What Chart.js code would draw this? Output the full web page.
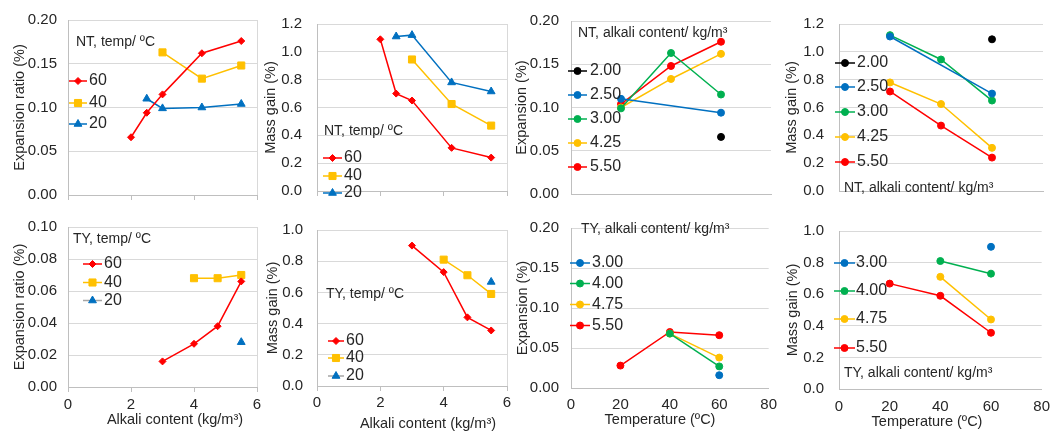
<!DOCTYPE html>
<html>
<head>
<meta charset="utf-8">
<script src="https://cdn.jsdelivr.net/npm/chart.js@4.4.0/dist/chart.umd.min.js"></script>
<style>
  html, body { margin: 0; padding: 0; background: #fff; }
  #wrap { position: relative; width: 1059px; height: 434px; overflow: hidden; }
  #wrap canvas { position: absolute; }
</style>
</head>
<body>
<div id="wrap"></div>
<script>
// ============================================================
// DATA
// ============================================================

// alkali contents (kg/m3) of the two aggregates
const alkaliNT = [2.0, 2.5, 3.0, 4.25, 5.5];
const alkaliTY = [3.0, 4.0, 4.75, 5.5];
// storage temperatures (ºC)
const tempAxis = [20, 40, 60];

// NT - expansion (%) per temperature, one value per alkali content (null = not tested)
const expNT60 = [0.066, 0.094, 0.115, 0.162, 0.176];
const expNT40 = [null, null, 0.163, 0.133, 0.148];
const expNT20 = [null, 0.110, 0.099, 0.100, 0.104];

// NT - mass gain (%)
const massNT60 = [1.09, 0.70, 0.65, 0.31, 0.24];
const massNT40 = [null, null, 0.945, 0.625, 0.47];
const massNT20 = [null, 1.11, 1.12, 0.78, 0.715];

// TY - expansion (%)
const expTY60 = [0.016, 0.027, 0.038, 0.066];
const expTY40 = [null, 0.068, 0.068, 0.070];
const expTY20 = [null, null, null, 0.028];

// TY - mass gain (%)
const massTY60 = [0.90, 0.73, 0.44, 0.356];
const massTY40 = [null, 0.81, 0.71, 0.59];
const massTY20 = [null, null, null, 0.667];

// ============================================================
// STYLE
// ============================================================

const FONT = "'Liberation Sans', Arial, sans-serif";
const TXT = '#262626';
const GRID = '#d9d9d9';
const AXIS = '#bfbfbf';
const RED = '#ff0000', YEL = '#ffc000', BLU = '#0070c0', GRN = '#00b050', BLK = '#000000', GRY = '#a5a5a5';

Chart.defaults.font.family = FONT;
Chart.defaults.color = TXT;

const tempStyle = {
  60: { color: RED, pointStyle: 'rectRot', radius: 3.5 },
  40: { color: YEL, pointStyle: 'rect', radius: 5 },
  20: { color: BLU, pointStyle: 'triangle', radius: 4.5 },
};

function xy(xs, ys) {
  return xs.map((x, i) => ({ x, y: ys[i] })).filter(p => p.y !== null);
}

// series = temperature, x = alkali content
function tempSeries(xs, v60, v40, v20, lone20) {
  return [[60, v60], [40, v40], [20, v20]].map(([t, vals]) => {
    const st = tempStyle[t];
    return {
      label: String(t),
      data: xy(xs, vals),
      showLine: true,
      borderColor: (t === 20 && lone20) ? GRY : st.color,
      borderWidth: 1.5,
      backgroundColor: st.color,
      pointBackgroundColor: st.color,
      pointBorderColor: st.color,
      pointStyle: st.pointStyle,
      pointRadius: st.radius,
      pointBorderWidth: 1,
    };
  });
}

// series = alkali content, x = temperature
function alkaliSeries(alk, colors, v20, v40, v60) {
  return alk.map((a, i) => ({
    label: a.toFixed(2),
    data: xy(tempAxis, [v20[i], v40[i], v60[i]]),
    showLine: true,
    borderColor: colors[i],
    borderWidth: 1.5,
    backgroundColor: colors[i],
    pointBackgroundColor: colors[i],
    pointBorderColor: colors[i],
    pointStyle: 'circle',
    pointRadius: 3.5,
    pointBorderWidth: 1,
  }));
}

// ============================================================
// PANELS (page coordinates)
// ============================================================

const ROW1 = [0, 215], ROW2 = [207, 227];

const panels = [
  { box: [0, ROW1[0], 268, ROW1[1]], area: [68, 17, 257, 205],
    yMax: 0.20, yStep: 0.05, yDec: 2, yTitle: 'Expansion ratio (%)', yTitleX: 20, tickGap: 11,
    xMax: 6, xStep: 2, xMarks: true, rightEdge: true,
    datasets: tempSeries(alkaliNT, expNT60, expNT40, expNT20, false),
    legend: { title: 'NT, temp/ ºC', tx: 76, ty: 42, x0: 69, x1: 87, lx: 89, ys: [81, 103, 124] } },
  { box: [258, ROW1[0], 260, ROW1[1]], area: [317, 17, 507, 205],
    yMax: 1.2, yStep: 0.2, yDec: 1, yTitle: 'Mass gain (%)', yTitleX: 271, tickGap: 15,
    xMax: 6, xStep: 2, xMarks: true, rightEdge: true,
    datasets: tempSeries(alkaliNT, massNT60, massNT40, massNT20, false),
    legend: { title: 'NT, temp/ ºC', tx: 324, ty: 131, x0: 323, x1: 342, lx: 344, ys: [158, 176, 193] } },
  { box: [508, ROW1[0], 277, ROW1[1]], area: [571, 17, 771, 202],
    yMax: 0.20, yStep: 0.05, yDec: 2, yTitle: 'Expansion (%)', yTitleX: 522, tickGap: 12,
    xMax: 80, xStep: 20, xMarks: false, rightEdge: false,
    datasets: alkaliSeries(alkaliNT, [BLK, BLU, GRN, YEL, RED], expNT20, expNT40, expNT60),
    legend: { title: 'NT, alkali content/ kg/m³', tx: 578, ty: 33, x0: 568, x1: 587, lx: 590, ys: [71, 95, 119, 143, 167] } },
  { box: [778, ROW1[0], 281, ROW1[1]], area: [839, 22, 1043, 203],
    yMax: 1.2, yStep: 0.2, yDec: 1, yTitle: 'Mass gain (%)', yTitleX: 792, tickGap: 15,
    xMax: 80, xStep: 20, xMarks: false, rightEdge: false,
    datasets: alkaliSeries(alkaliNT, [BLK, BLU, GRN, YEL, RED], massNT20, massNT40, massNT60),
    legend: { title: 'NT, alkali content/ kg/m³', tx: 844, ty: 188, x0: 835, x1: 855, lx: 857, ys: [63, 87, 112, 137, 162] } },

  { box: [0, ROW2[0], 268, ROW2[1]], area: [68, 221, 257, 387],
    yMax: 0.10, yStep: 0.02, yDec: 2, yTitle: 'Expansion ratio (%)', yTitleX: 20, tickGap: 11,
    xMax: 6, xStep: 2, xMarks: true, rightEdge: true,
    xTitle: 'Alkali content (kg/m³)', xLabelY: 405, xTitleX: 175, xTitleY: 420,
    datasets: tempSeries(alkaliTY, expTY60, expTY40, expTY20, true),
    legend: { title: 'TY, temp/ ºC', tx: 73, ty: 239, x0: 83, x1: 102, lx: 104, ys: [264, 282.5, 300.5] } },
  { box: [258, ROW2[0], 260, ROW2[1]], area: [317, 221, 507, 386],
    yMax: 1.0, yStep: 0.2, yDec: 1, yTitle: 'Mass gain (%)', yTitleX: 273, tickGap: 14,
    xMax: 6, xStep: 2, xMarks: true, rightEdge: true,
    xTitle: 'Alkali content (kg/m³)', xLabelY: 403, xTitleX: 428, xTitleY: 424,
    datasets: tempSeries(alkaliTY, massTY60, massTY40, massTY20, true),
    legend: { title: 'TY, temp/ ºC', tx: 326, ty: 294, x0: 328, x1: 344, lx: 346, ys: [341, 358, 376] } },
  { box: [508, ROW2[0], 277, ROW2[1]], area: [571, 216, 772, 388],
    yMax: 0.20, yStep: 0.05, yDec: 2, yTitle: 'Expansion (%)', yTitleX: 522.5, tickGap: 12,
    xMax: 80, xStep: 20, xMarks: false, rightEdge: false,
    xTitle: 'Temperature (ºC)', xLabelY: 405, xTitleX: 660, xTitleY: 420,
    datasets: alkaliSeries(alkaliTY, [BLU, GRN, YEL, RED], expTY20, expTY40, expTY60),
    legend: { title: 'TY, alkali content/ kg/m³', tx: 581, ty: 229, x0: 570, x1: 590, lx: 592, ys: [263, 283.5, 304.5, 325.5] } },
  { box: [778, ROW2[0], 281, ROW2[1]], area: [839, 219, 1043, 389],
    yMax: 1.0, yStep: 0.2, yDec: 1, yTitle: 'Mass gain (%)', yTitleX: 792.5, tickGap: 15,
    xMax: 80, xStep: 20, xMarks: false, rightEdge: false,
    xTitle: 'Temperature (ºC)', xLabelY: 407, xTitleX: 927, xTitleY: 422,
    datasets: alkaliSeries(alkaliTY, [BLU, GRN, YEL, RED], massTY20, massTY40, massTY60),
    legend: { title: 'TY, alkali content/ kg/m³', tx: 844, ty: 373, x0: 834, x1: 855, lx: 856, ys: [263, 291, 319, 348] } },
];

const TITLE_SIZE = 14.5, TICK_SIZE = 15;

// ============================================================
// LEGEND INSIDE THE PLOT (title + line sample with marker) + x title
// ============================================================

function makeLegend(p) {
  const ox = p.box[0], oy = p.box[1];
  const L = p.legend;
  return {
    id: 'panelLegend',
    afterDraw(chart) {
      const ctx = chart.ctx;
      ctx.save();
      ctx.textBaseline = 'middle';
      ctx.textAlign = 'left';
      ctx.fillStyle = TXT;
      ctx.font = `14px ${FONT}`;
      ctx.fillText(L.title, L.tx - ox, L.ty - oy);
      ctx.font = `16px ${FONT}`;
      chart.data.datasets.forEach((ds, i) => {
        const y = L.ys[i] - oy;
        ctx.strokeStyle = ds.borderColor;
        ctx.lineWidth = ds.borderWidth;
        ctx.beginPath();
        ctx.moveTo(L.x0 - ox, y);
        ctx.lineTo(L.x1 - ox, y);
        ctx.stroke();
        ctx.fillStyle = ds.pointBackgroundColor;
        ctx.strokeStyle = ds.pointBorderColor;
        ctx.lineWidth = 1;
        Chart.helpers.drawPoint(ctx, { pointStyle: ds.pointStyle, radius: ds.pointRadius, rotation: 0, borderWidth: 1 },
          (L.x0 + L.x1) / 2 - ox, y);
        ctx.fillStyle = TXT;
        ctx.fillText(ds.label, L.lx - ox, y);
      });
      // x axis title, placed where the source figure has it (not always centred on the plot)
      if (p.xTitle) {
        ctx.textAlign = 'center';
        ctx.font = `${TITLE_SIZE}px ${FONT}`;
        ctx.fillText(p.xTitle, p.xTitleX - ox, p.xTitleY - oy);
      }
      ctx.restore();
    }
  };
}

// ============================================================
// BUILD CHARTS
// ============================================================

const wrap = document.getElementById('wrap');

panels.forEach(p => {
  const [bx, by, bw, bh] = p.box;
  const [al, at, ar, ab] = p.area;
  const cv = document.createElement('canvas');
  cv.width = bw; cv.height = bh;
  cv.style.left = bx + 'px'; cv.style.top = by + 'px';
  cv.style.width = bw + 'px'; cv.style.height = bh + 'px';
  wrap.appendChild(cv);

  const titleLH = TITLE_SIZE * 1.2;
  const tickLen = p.xMarks ? 5 : 0;
  const bottomRow = !!p.xTitle;
  const xH = bottomRow ? (p.xTitleY - ab + titleLH / 2) : tickLen;
  const xPad = bottomRow ? (p.xLabelY - ab - TICK_SIZE * 0.6 - tickLen) : 0;

  new Chart(cv.getContext('2d'), {
    type: 'scatter',
    data: { datasets: p.datasets },
    options: {
      responsive: false,
      animation: false,
      devicePixelRatio: 1,
      layout: { padding: { left: 0, top: at - by, right: bx + bw - ar, bottom: by + bh - ab - xH } },
      plugins: { legend: { display: false }, tooltip: { enabled: false } },
      scales: {
        x: {
          type: 'linear',
          min: 0, max: p.xMax,
          ticks: {
            display: bottomRow, stepSize: p.xStep, autoSkip: false, maxRotation: 0,
            font: { size: TICK_SIZE }, color: TXT, padding: xPad,
            callback: v => String(v)
          },
          grid: p.xMarks ? {
            drawTicks: true, tickLength: tickLen, tickColor: AXIS,
            color: c => (p.rightEdge && c.tick && c.tick.value === p.xMax) ? GRID : 'rgba(0,0,0,0)'
          } : { display: false, drawTicks: false },
          border: { color: AXIS, width: 1 },
          title: { display: false },
          afterFit: a => { a.height = xH; }
        },
        y: {
          min: 0, max: p.yMax,
          ticks: {
            stepSize: p.yStep, font: { size: TICK_SIZE }, color: TXT, padding: p.tickGap,
            callback: v => Number(v).toFixed(p.yDec)
          },
          grid: { color: GRID, drawTicks: false },
          border: { color: AXIS, width: 1 },
          title: {
            display: true, text: p.yTitle, color: TXT, font: { size: TITLE_SIZE },
            padding: { top: p.yTitleX - bx - titleLH / 2, bottom: 0 }
          },
          afterFit: a => { a.width = al - bx; }
        }
      }
    },
    plugins: [makeLegend(p)]
  });
});
</script>
</body>
</html>
